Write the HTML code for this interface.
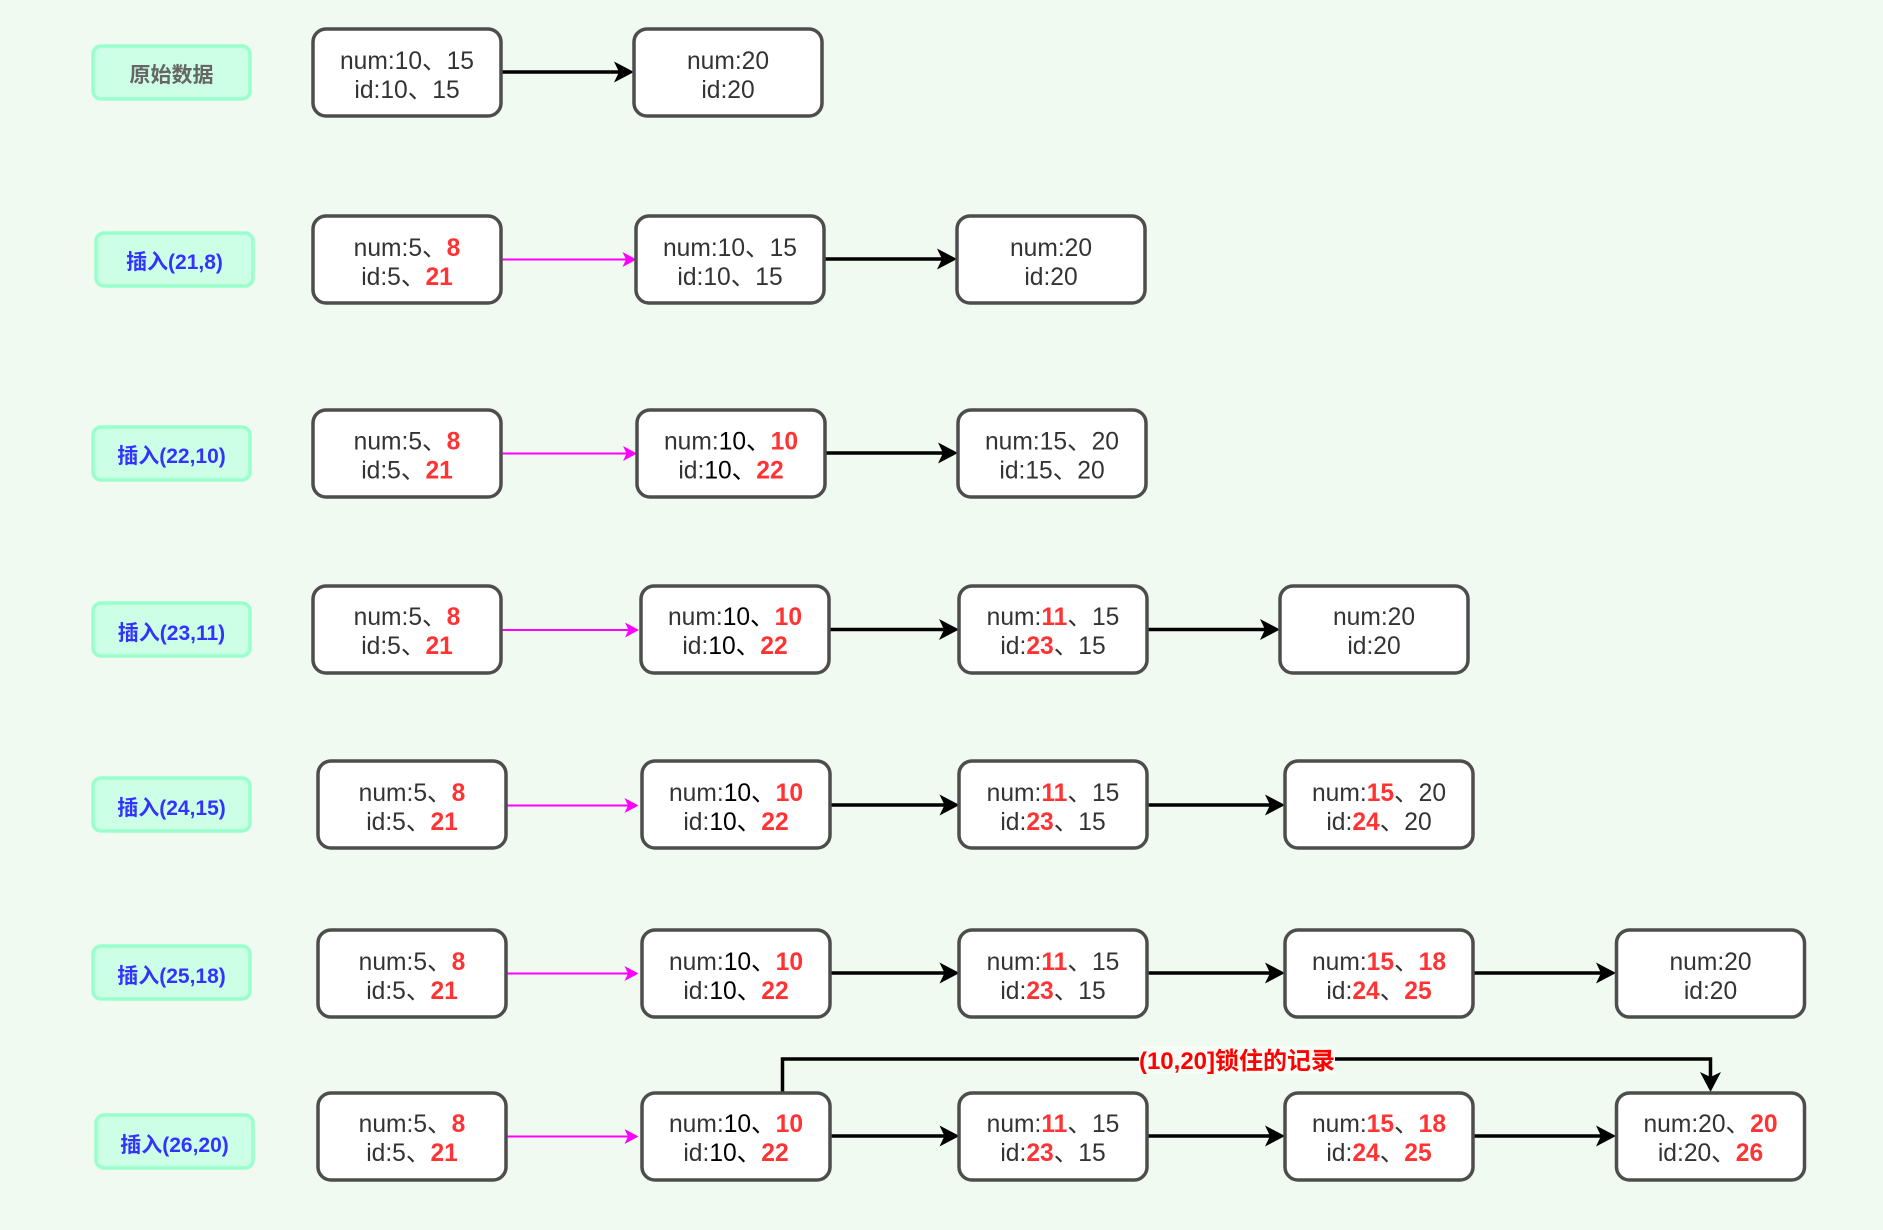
<!DOCTYPE html>
<html>
<head>
<meta charset="utf-8">
<style>
html,body{margin:0;padding:0;background:#f0faf0;width:1883px;height:1230px;overflow:hidden}
svg{display:block}
text{font-family:"Liberation Sans","Noto Sans CJK SC",sans-serif}
.b rect{fill:#fff;stroke:#4d4d4d;stroke-width:3.5;x:-1px;y:-1px;width:188px;height:87px}
.b text{font-size:24.6px;fill:#333;text-anchor:middle}
.b tspan.r{fill:#ff3333;font-weight:bold}
.b tspan.k{fill:#000}
.l rect{fill:#ccffe6;stroke:#99ffcc;stroke-width:3.5;width:157px;height:53px}
.l text{font-size:21px;font-weight:bold;fill:#3333ff;text-anchor:middle}
.a{stroke:#000;stroke-width:3.5;fill:none;marker-end:url(#ab)}
.m{stroke:#ff00ff;stroke-width:2;fill:none;marker-end:url(#am)}
</style>
</head>
<body>
<svg width="1883" height="1230" viewBox="0 0 1883 1230" xmlns="http://www.w3.org/2000/svg">
<defs>
<marker id="ab" markerUnits="userSpaceOnUse" markerWidth="24" markerHeight="24" viewBox="0 0 24 24" refX="10" refY="12" orient="auto"><path d="M0 1.500 L20 12 L0 22.500 L5 12 Z" fill="#000"/></marker>
<marker id="am" markerUnits="userSpaceOnUse" markerWidth="18" markerHeight="18" viewBox="0 0 18 18" refX="8" refY="9" orient="auto"><path d="M0 1.500 L14 9 L0 16.500 L3.500 9 Z" fill="#ff00ff"/></marker>
</defs>

<!-- labels -->
<g class="l" transform="translate(93,46)"><rect rx="8"/><text x="78.5" y="36" style="fill:#666">原始数据</text></g>
<g class="l" transform="translate(96,233)"><rect rx="8"/><text x="78.5" y="36">插入(21,8)</text></g>
<g class="l" transform="translate(93,427)"><rect rx="8"/><text x="78.5" y="36">插入(22,10)</text></g>
<g class="l" transform="translate(93,603)"><rect rx="8"/><text x="78.5" y="37">插入(23,11)</text></g>
<g class="l" transform="translate(93,778)"><rect rx="8"/><text x="78.5" y="37">插入(24,15)</text></g>
<g class="l" transform="translate(93,946)"><rect rx="8"/><text x="78.5" y="37">插入(25,18)</text></g>
<g class="l" transform="translate(96,1115)"><rect rx="8"/><text x="78.5" y="37">插入(26,20)</text></g>

<!-- connectors -->
<path class="a" d="M501 72H624"/>

<path class="m" d="M501 259.500H630.500"/>
<path class="a" d="M825 259H947"/>

<path class="m" d="M501 453.500H631"/>
<path class="a" d="M825 453H948"/>

<path class="m" d="M501 630H633"/>
<path class="a" d="M829 629.500H949"/>
<path class="a" d="M1147 629.500H1270"/>

<path class="m" d="M506 805.500H632.500"/>
<path class="a" d="M829 805H949.500"/>
<path class="a" d="M1147 805H1275"/>

<path class="m" d="M506 973.500H632.500"/>
<path class="a" d="M829 973H949.500"/>
<path class="a" d="M1147 973H1275"/>
<path class="a" d="M1473 973H1606"/>

<path class="m" d="M506 1136.500H632.500"/>
<path class="a" d="M829 1136H949.500"/>
<path class="a" d="M1147 1136H1275"/>
<path class="a" d="M1473 1136H1606"/>
<path class="a" d="M782.500 1092V1059H1710.500V1082"/>

<rect x="1139" y="1046" width="196" height="28" fill="#f7fcf7"/>
<text x="1237" y="1069" font-size="24" font-weight="bold" fill="#ff0000" text-anchor="middle">(10,20]锁住的记录</text>

<!-- row 1 -->
<g class="b" transform="translate(314,30)"><rect rx="13"/><text x="93" y="39">num:10、15</text><text x="93" y="68">id:10、15</text></g>
<g class="b" transform="translate(635,30)"><rect rx="13"/><text x="93" y="39">num:20</text><text x="93" y="68">id:20</text></g>

<!-- row 2 -->
<g class="b" transform="translate(314,217)"><rect rx="13"/><text x="93" y="39">num:5、<tspan class="r">8</tspan></text><text x="93" y="68">id:5、<tspan class="r">21</tspan></text></g>
<g class="b" transform="translate(637,217)"><rect rx="13"/><text x="93" y="39">num:10、15</text><text x="93" y="68">id:10、15</text></g>
<g class="b" transform="translate(958,217)"><rect rx="13"/><text x="93" y="39">num:20</text><text x="93" y="68">id:20</text></g>

<!-- row 3 -->
<g class="b" transform="translate(314,411)"><rect rx="13"/><text x="93" y="38.500">num:5、<tspan class="r">8</tspan></text><text x="93" y="67.500">id:5、<tspan class="r">21</tspan></text></g>
<g class="b" transform="translate(638,411)"><rect rx="13"/><text x="93" y="38.500">num:<tspan class="k">10、</tspan><tspan class="r">10</tspan></text><text x="93" y="67.500">id:<tspan class="k">10、</tspan><tspan class="r">22</tspan></text></g>
<g class="b" transform="translate(959,411)"><rect rx="13"/><text x="93" y="38.500">num:15、20</text><text x="93" y="67.500">id:15、20</text></g>

<!-- row 4 -->
<g class="b" transform="translate(314,587)"><rect rx="13"/><text x="93" y="38">num:5、<tspan class="r">8</tspan></text><text x="93" y="67">id:5、<tspan class="r">21</tspan></text></g>
<g class="b" transform="translate(642,587)"><rect rx="13"/><text x="93" y="38">num:<tspan class="k">10、</tspan><tspan class="r">10</tspan></text><text x="93" y="67">id:<tspan class="k">10、</tspan><tspan class="r">22</tspan></text></g>
<g class="b" transform="translate(960,587)"><rect rx="13"/><text x="93" y="38">num:<tspan class="r">11</tspan>、15</text><text x="93" y="67">id:<tspan class="r">23</tspan>、15</text></g>
<g class="b" transform="translate(1281,587)"><rect rx="13"/><text x="93" y="38">num:20</text><text x="93" y="67">id:20</text></g>

<!-- row 5 -->
<g class="b" transform="translate(319,762)"><rect rx="13"/><text x="93" y="39">num:5、<tspan class="r">8</tspan></text><text x="93" y="68">id:5、<tspan class="r">21</tspan></text></g>
<g class="b" transform="translate(643,762)"><rect rx="13"/><text x="93" y="39">num:<tspan class="k">10、</tspan><tspan class="r">10</tspan></text><text x="93" y="68">id:<tspan class="k">10、</tspan><tspan class="r">22</tspan></text></g>
<g class="b" transform="translate(960,762)"><rect rx="13"/><text x="93" y="39">num:<tspan class="r">11</tspan>、15</text><text x="93" y="68">id:<tspan class="r">23</tspan>、15</text></g>
<g class="b" transform="translate(1286,762)"><rect rx="13"/><text x="93" y="39">num:<tspan class="r">15</tspan>、20</text><text x="93" y="68">id:<tspan class="r">24</tspan>、20</text></g>

<!-- row 6 -->
<g class="b" transform="translate(319,931)"><rect rx="13"/><text x="93" y="39">num:5、<tspan class="r">8</tspan></text><text x="93" y="68">id:5、<tspan class="r">21</tspan></text></g>
<g class="b" transform="translate(643,931)"><rect rx="13"/><text x="93" y="39">num:<tspan class="k">10、</tspan><tspan class="r">10</tspan></text><text x="93" y="68">id:<tspan class="k">10、</tspan><tspan class="r">22</tspan></text></g>
<g class="b" transform="translate(960,931)"><rect rx="13"/><text x="93" y="39">num:<tspan class="r">11</tspan>、15</text><text x="93" y="68">id:<tspan class="r">23</tspan>、15</text></g>
<g class="b" transform="translate(1286,931)"><rect rx="13"/><text x="93" y="39">num:<tspan class="r">15</tspan>、<tspan class="r">18</tspan></text><text x="93" y="68">id:<tspan class="r">24</tspan>、<tspan class="r">25</tspan></text></g>
<g class="b" transform="translate(1617.500,931)"><rect rx="13"/><text x="93" y="39">num:20</text><text x="93" y="68">id:20</text></g>

<!-- row 7 -->
<g class="b" transform="translate(319,1094)"><rect rx="13"/><text x="93" y="38">num:5、<tspan class="r">8</tspan></text><text x="93" y="67">id:5、<tspan class="r">21</tspan></text></g>
<g class="b" transform="translate(643,1094)"><rect rx="13"/><text x="93" y="38">num:<tspan class="k">10、</tspan><tspan class="r">10</tspan></text><text x="93" y="67">id:<tspan class="k">10、</tspan><tspan class="r">22</tspan></text></g>
<g class="b" transform="translate(960,1094)"><rect rx="13"/><text x="93" y="38">num:<tspan class="r">11</tspan>、15</text><text x="93" y="67">id:<tspan class="r">23</tspan>、15</text></g>
<g class="b" transform="translate(1286,1094)"><rect rx="13"/><text x="93" y="38">num:<tspan class="r">15</tspan>、<tspan class="r">18</tspan></text><text x="93" y="67">id:<tspan class="r">24</tspan>、<tspan class="r">25</tspan></text></g>
<g class="b" transform="translate(1617.500,1094)"><rect rx="13"/><text x="93" y="38">num:20、<tspan class="r">20</tspan></text><text x="93" y="67">id:20、<tspan class="r">26</tspan></text></g>
</svg>
</body>
</html>
